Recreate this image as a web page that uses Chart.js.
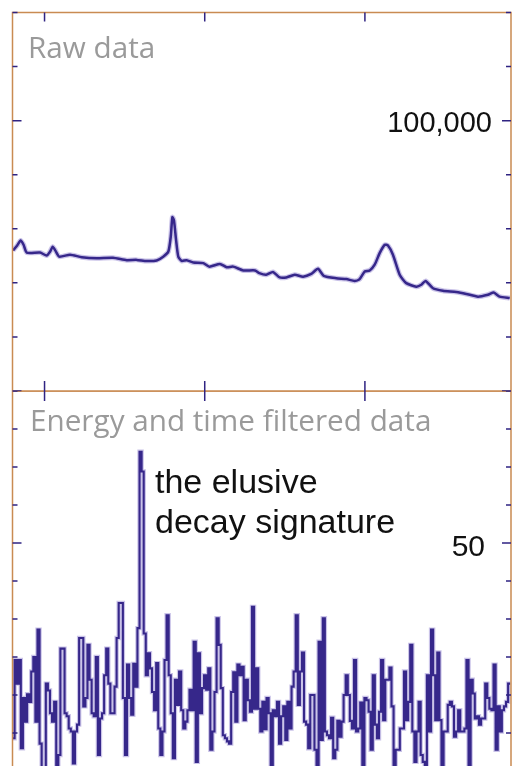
<!DOCTYPE html>
<html>
<head>
<meta charset="utf-8">
<script src="https://cdn.jsdelivr.net/npm/chart.js@4.4.1/dist/chart.umd.min.js"></script>
<style>
  html, body { margin: 0; padding: 0; background: #fff; }
  #wrap { position: relative; width: 513px; height: 766px; overflow: hidden; }
  #rawChart { position: absolute; left: 0; top: 0; }
  #filteredChart { position: absolute; left: 0; top: 391px; }
</style>
</head>
<body>
<div id="wrap">
  <canvas id="rawChart" width="513" height="392"></canvas>
  <canvas id="filteredChart" width="513" height="375"></canvas>
</div>
<script>
// energy axis (keV), shared by both panels
const energyMin = 800;
const energyMax = 3912;
const energyTicks = [1000, 2000, 3000];

// raw spectrum (counts)
const rawEnergy = [803, 828, 851, 869, 889, 972, 1013, 1034, 1051, 1068, 1092, 1159, 1232, 1326, 1427,
  1513, 1575, 1638, 1700, 1741, 1773, 1788, 1798, 1808, 1821, 1835, 1856, 1887, 1929, 1991,
  2029, 2095, 2137, 2178, 2241, 2314, 2341, 2384, 2426, 2468, 2509, 2562, 2614, 2665, 2707,
  2743, 2821, 2884, 2936, 2967, 2999, 3030, 3061, 3092, 3124, 3144, 3175, 3217, 3258, 3321,
  3352, 3379, 3425, 3487, 3570, 3633, 3706, 3768, 3804, 3841, 3904];
const rawCounts = [52000, 53700, 55700, 54100, 51200, 51200, 50100, 51500, 53400, 51900, 49700, 50400, 49500, 49100, 49300,
  48400, 48500, 48100, 48300, 49700, 51600, 57100, 64300, 63100, 55900, 49700, 48100, 48400, 47500, 47300,
  46000, 47000, 45800, 46000, 44600, 44600, 43600, 43000, 44000, 42000, 42000, 43000, 42300, 43300, 45200,
  42600, 41700, 41400, 40700, 41400, 44200, 44600, 46700, 51000, 54100, 53800, 50400, 43000, 39900, 38600,
  39300, 40700, 38000, 37100, 36600, 35900, 34900, 35600, 36400, 34900, 34400];
const rawTicks = [0, 20000, 40000, 60000, 80000, 100000, 120000, 140000];

// energy and time filtered spectrum (counts per bin)
const binStart = 800;
const binWidth = 13;
const filteredCounts = [
  24.3, 34.6, 31.5, 34.6, 23.0, 29.6, 26.5, 30.1, 29.1, 33.1, 35.0, 26.5, 38.6, 23.6, 18.5, 18.5, 31.5, 30.6, 27.6, 26.5,
  29.1, 18.5, 22.1, 36.1, 36.1, 27.6, 27.2, 25.6, 25.2, 21.0, 25.2, 26.1, 37.5, 37.5, 28.5, 29.6, 36.6, 32.0, 27.6, 27.2,
  35.0, 22.1, 26.9, 27.6, 32.6, 36.1, 31.5, 27.6, 27.6, 31.1, 37.5, 42.1, 42.1, 29.6, 22.1, 34.0, 29.6, 27.4, 34.1, 31.1,
  38.8, 62.0, 59.4,
  38.1, 32.6, 35.5, 33.5, 30.4, 28.0, 34.2, 25.6, 22.1, 25.2, 34.6, 40.5, 32.6, 27.6, 21.7, 32.0, 28.7, 33.1, 28.0, 25.6,
  26.5, 28.0, 30.7, 28.0, 37.0, 21.2, 35.5, 27.6, 30.9, 32.6, 30.7, 33.5, 22.8, 25.2, 30.4, 40.1, 36.6, 30.9, 24.7, 24.3,
  23.9, 23.6, 30.4, 33.0, 26.5, 34.0, 32.6, 33.7, 26.7, 32.0, 29.3, 27.8, 41.6, 28.2, 33.5, 28.2, 25.2,
  29.1, 25.5, 29.6, 27.6, 18.5, 28.0, 27.2, 29.1, 23.6, 27.2, 28.5, 24.1, 29.1, 25.6, 31.1, 33.1, 40.5, 28.7, 33.1, 35.6,
  26.5, 26.1, 23.0, 30.0, 30.0, 22.8, 18.5, 37.0, 24.1, 40.1, 25.2, 24.7, 24.3, 27.0, 21.7, 22.8, 26.6, 24.5, 26.5, 30.0,
  32.6, 30.0, 26.6, 25.6, 34.6, 25.2, 25.6, 29.0, 18.5, 29.6, 29.3, 27.8, 22.8, 32.6, 26.1, 24.3, 27.8, 34.6,
  26.7, 32.0, 32.0, 33.6, 28.5, 18.5, 22.8, 22.8, 25.6, 25.6, 33.1, 26.7, 29.1, 36.6, 25.2, 21.2, 25.2, 29.1, 22.1, 21.2,
  18.5, 32.6, 25.2, 38.6, 32.6, 26.7, 35.6, 26.7, 18.5, 25.2, 25.2, 28.7, 29.1, 28.5, 24.5, 25.2, 28.0, 25.2, 25.2, 25.6,
  34.6, 18.5, 32.0, 30.2, 26.9, 27.2, 26.1, 26.9, 26.9, 31.5, 29.6, 28.2, 28.0, 34.0, 22.8, 28.5, 25.2, 28.0, 28.5, 29.1,
  31.5];
const filteredTicks = [25, 30, 35, 40, 45, 50, 55, 60, 65, 70];

const lineColor = '#36278a';
const haloColor = 'rgba(150, 135, 210, 0.5)';
const frameColor = '#c98b52';
const tickColor = '#2f2382';
const grayFont = '29.7px "Open Sans", "DejaVu Sans", sans-serif';
const blackFont = '"Liberation Sans", Arial, sans-serif';

// frame, inward ticks and the text on the panels
const framePlugin = {
  id: 'frame',
  afterDraw(chart, args, opts) {
    const {ctx, chartArea: {left, right, top, bottom}, scales: {x, y}} = chart;
    ctx.save();

    ctx.strokeStyle = frameColor;
    ctx.lineWidth = 1.5;
    ctx.beginPath();
    ctx.moveTo(left, opts.closeBottom ? bottom : chart.height + 2);
    ctx.lineTo(left, top);
    ctx.lineTo(right, top);
    ctx.lineTo(right, opts.closeBottom ? bottom : chart.height + 2);
    if (opts.closeBottom) {
      ctx.moveTo(left, bottom);
      ctx.lineTo(right, bottom);
    }
    ctx.stroke();

    ctx.strokeStyle = tickColor;
    ctx.lineWidth = 1.5;
    ctx.beginPath();
    for (const v of opts.yTicks) {
      const py = y.getPixelForValue(v);
      const len = v % opts.yMajor === 0 ? 9 : 5;
      ctx.moveTo(left, py);
      ctx.lineTo(left + len, py);
      ctx.moveTo(right, py);
      ctx.lineTo(right - len, py);
    }
    for (const v of energyTicks) {
      const px = x.getPixelForValue(v);
      ctx.moveTo(px, top);
      ctx.lineTo(px, top + opts.topTick);
      if (opts.bottomTick) {
        ctx.moveTo(px, bottom);
        ctx.lineTo(px, bottom - opts.bottomTick);
      }
    }
    ctx.stroke();

    for (const t of opts.texts) {
      ctx.font = t.font;
      ctx.fillStyle = t.color;
      ctx.textAlign = t.align || 'left';
      ctx.textBaseline = 'alphabetic';
      const py = t.value !== undefined ? y.getPixelForValue(t.value) + t.dy : t.y;
      ctx.fillText(t.text, t.x, py);
    }
    ctx.restore();
  }
};

function lineOptions(yMin, yMax, padding, frame) {
  return {
    responsive: false,
    animation: false,
    events: [],
    layout: { padding: padding },
    elements: { point: { radius: 0 } },
    scales: {
      x: { type: 'linear', display: false, min: energyMin, max: energyMax },
      y: { type: 'linear', display: false, min: yMin, max: yMax }
    },
    plugins: {
      legend: { display: false },
      tooltip: { enabled: false },
      frame: frame
    }
  };
}

// top panel: raw data
const rawPoints = rawEnergy.map((e, i) => ({x: e, y: rawCounts[i]}));
new Chart(document.getElementById('rawChart'), {
  type: 'line',
  data: {
    datasets: [
      { data: rawPoints, borderColor: lineColor, borderWidth: 2.5, tension: 0.2 },
      { data: rawPoints, borderColor: haloColor, borderWidth: 5, tension: 0.2 }
    ]
  },
  options: lineOptions(0, 140000, {left: 12.5, top: 12.5, right: 2, bottom: 1}, {
    yTicks: rawTicks, yMajor: 100000, topTick: 9, bottomTick: 10, closeBottom: true,
    texts: [
      { text: 'Raw data', x: 28, y: 58, font: grayFont, color: '#9a9a9a' },
      { text: '100,000', x: 492, value: 100000, dy: 11, align: 'right', font: '29px ' + blackFont, color: '#111' }
    ]
  }),
  plugins: [framePlugin]
});

// bottom panel: energy and time filtered data, drawn as a histogram
const binPoints = filteredCounts.map((c, i) => ({x: binStart + i * binWidth, y: c}));
binPoints.push({x: binStart + filteredCounts.length * binWidth, y: filteredCounts[filteredCounts.length - 1]});
new Chart(document.getElementById('filteredChart'), {
  type: 'line',
  data: {
    datasets: [
      { data: binPoints, borderColor: lineColor, borderWidth: 2.1, stepped: 'before' },
      { data: binPoints, borderColor: haloColor, borderWidth: 4.4, stepped: 'before' }
    ]
  },
  options: lineOptions(70 - 375 / 38 * 5, 70, {left: 12.5, top: 0, right: 2, bottom: 0}, {
    yTicks: filteredTicks, yMajor: 50, topTick: 10, bottomTick: 0, closeBottom: false,
    texts: [
      { text: 'Energy and time filtered data', x: 30, y: 40, font: grayFont, color: '#9a9a9a' },
      { text: 'the elusive', x: 155, y: 102, font: '34px ' + blackFont, color: '#111' },
      { text: 'decay signature', x: 155, y: 142, font: '34px ' + blackFont, color: '#111' },
      { text: '50', x: 485, value: 50, dy: 13, align: 'right', font: '30px ' + blackFont, color: '#111' }
    ]
  }),
  plugins: [framePlugin]
});
</script>
</body>
</html>
